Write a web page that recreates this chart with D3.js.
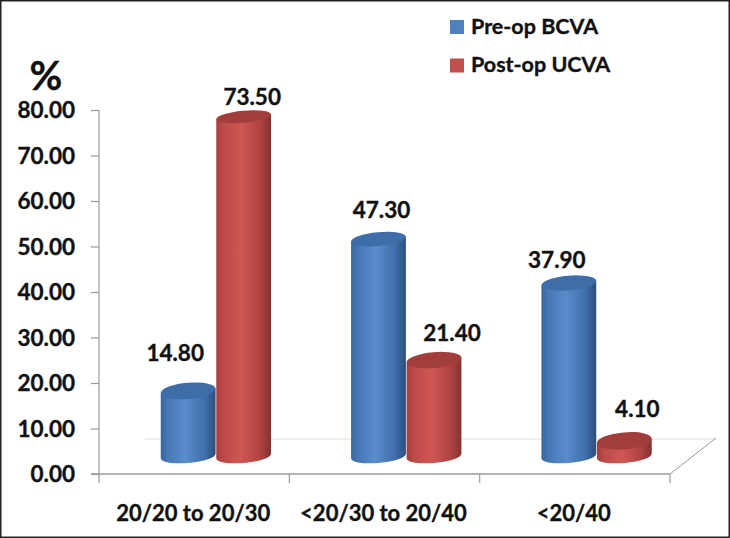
<!DOCTYPE html>
<html><head><meta charset="utf-8">
<script src="https://cdn.jsdelivr.net/npm/d3@7/dist/d3.min.js"></script>
<style>html,body{margin:0;padding:0;background:#fff}svg{display:block}text{font-family:Lato,"Open Sans",sans-serif;font-weight:700;fill:#111;stroke:#111;stroke-width:.35px}</style>
</head><body><div id="chart"></div>
<script>
const categories = ["20/20 to 20/30", "<20/30 to 20/40", "<20/40"];
const preOp = [14.8, 47.3, 37.9];
const postOp = [73.5, 21.4, 4.1];
const seriesNames = ["Pre-op BCVA", "Post-op UCVA"];
const yTicks = [0, 10, 20, 30, 40, 50, 60, 70, 80];
const W = 730, H = 538;
const svg = d3.select("#chart").append("svg").attr("width", W).attr("height", H);
const defs = svg.append("defs");
function grad(id, stops){
  const g = defs.append("linearGradient").attr("id", id).attr("x1",0).attr("x2",1).attr("y1",0).attr("y2",0);
  stops.forEach(s => g.append("stop").attr("offset", s[0]).attr("stop-color", s[1]));
}
grad("blue", [[0,"#3a659c"],[.12,"#4677b5"],[.45,"#5a8ccb"],[.8,"#3f6fac"],[1,"#2c4f7c"]]);
grad("red", [[0,"#a63f3d"],[.12,"#bb4a47"],[.45,"#cf5754"],[.8,"#b04341"],[1,"#823230"]]);
const topColors = ["#3f6da8","#a13e3c"];
svg.append("rect").attr("x",.75).attr("y",.75).attr("width",W-1.5).attr("height",H-1.5).attr("fill","#fff").attr("stroke","#222").attr("stroke-width",1.5);

const y = d3.scaleLinear().domain([0,80]).range([474,110]);
const x = d3.scaleBand().domain(categories).range([99,670]);
const barY = d3.scaleLinear().domain([0,80]).range([460,86.4]);
const axisColor = "#9a9a9a";

// floor
svg.append("line").attr("x1",145).attr("x2",716).attr("y1",439).attr("y2",439).attr("stroke","#ddd");
svg.append("line").attr("x1",670).attr("x2",716).attr("y1",474).attr("y2",438).attr("stroke",axisColor);

const yAxis = d3.axisLeft(y).tickValues(yTicks).tickFormat(d3.format(".2f")).tickSize(8).tickPadding(16);
const gy = svg.append("g").attr("transform","translate(99,0)").call(yAxis);
gy.selectAll("line").attr("stroke",axisColor).attr("stroke-width",1.2);
gy.select(".domain").attr("stroke",axisColor).attr("stroke-width",1.2).attr("d",`M0,${y(80)}V${y(0)}`);
gy.selectAll("text").style("font-size","22.5px").attr("dy","0.34em");

const gx = svg.append("g").attr("transform","translate(0,474)").call(d3.axisBottom(x).tickValues([]).tickSize(0));
gx.select(".domain").attr("d","M91,0H670").attr("stroke",axisColor).attr("stroke-width",1.4);
const tickPos = x.domain().map(c => x(c)).concat([x.range()[1]]);
gx.selectAll("line.t").data(tickPos).join("line").attr("class","t").attr("x1",d=>d).attr("x2",d=>d).attr("y1",0).attr("y2",9).attr("stroke",axisColor).attr("stroke-width",1.2);
gx.selectAll("text.c").data(categories).join("text").attr("class","c")
  .attr("x",d=>x(d)+x.bandwidth()/2-1).attr("y",47).attr("text-anchor","middle").style("font-size","22px").text(d=>d);

// cylinders
const RX = 27.5, TILT = -5, BASE = 456;
const ryAt = d3.scaleLinear().domain([117,441]).range([6,8.5]);
function cyl(g, cx, yTop, s){
  const t = TILT*Math.PI/180, dx = RX*Math.cos(t), dy = RX*Math.sin(t);
  const ryT = ryAt(yTop), ryB = 7;
  g.append("path").attr("fill",`url(#${s?"red":"blue"})`)
   .attr("d",`M${cx-dx},${yTop-dy} L${cx-dx},${BASE-dy} A${RX},${ryB} ${TILT} 0 0 ${cx+dx},${BASE+dy} L${cx+dx},${yTop+dy} Z`);
  g.append("ellipse").attr("cx",cx).attr("cy",yTop).attr("rx",RX).attr("ry",ryT)
   .attr("transform",`rotate(${TILT} ${cx} ${yTop})`).attr("fill",topColors[s]);
}
const labelDX = [[-13,3,-12],[8.5,18,13]];
const labelDY = [[38,29,23],[20,27,32]];
const bars = svg.append("g");
categories.forEach((c,i)=>{
  [preOp[i],postOp[i]].forEach((v,s)=>{
    const cx = x(c) + x.bandwidth()/2 - 6 + s*55.5;
    cyl(bars, cx, barY(v), s);
    svg.append("text").attr("x",cx+labelDX[s][i]).attr("y",barY(v)-labelDY[s][i]).attr("dy","0.35em")
      .attr("text-anchor","middle").style("font-size","22.5px").text(d3.format(".2f")(v));
  });
});

// percent
svg.append("text").attr("x",46).attr("y",90).attr("text-anchor","middle").style("font-size","40px").text("%");

// legend
const lg = svg.append("g");
seriesNames.forEach((n,i)=>{
  const ly = 27 + i*38.5;
  lg.append("rect").attr("x",450).attr("y",ly-7).attr("width",14).attr("height",14).attr("fill",i?"#c0504d":"#4f81bd");
  lg.append("text").attr("x",471).attr("y",ly-1).attr("dy","0.35em").style("font-size","21.5px").text(n);
});
</script></body></html>
